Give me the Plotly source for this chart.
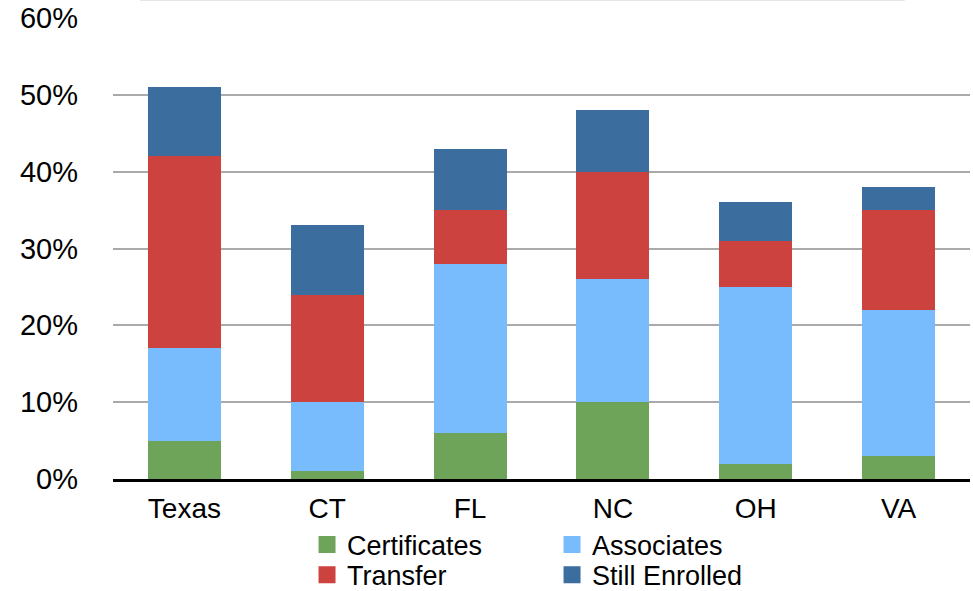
import plotly.graph_objects as go

states = ["Texas", "CT", "FL", "NC", "OH", "VA"]
certificates = [5, 1, 6, 10, 2, 3]
associates = [12, 9, 22, 16, 23, 19]
transfer = [25, 14, 7, 14, 6, 13]
still_enrolled = [9, 9, 8, 8, 5, 3]

series_names = ["Certificates", "Associates", "Transfer", "Still Enrolled"]
series_values = [certificates, associates, transfer, still_enrolled]
series_colors = ["#6ea45a", "#79bcfd", "#cb423f", "#3b6d9e"]
legend_ids = ["legend", "legend2", "legend3", "legend4"]

y_ticks = [0, 10, 20, 30, 40, 50, 60]
y_tick_labels = [f"{v}%" for v in y_ticks]

fig = go.Figure()
for name, vals, color in zip(series_names, series_values, series_colors):
    fig.add_trace(go.Bar(x=states, y=vals, name=name, marker=dict(color=color, line=dict(width=0)),
                         showlegend=False, width=0.51))
# legend-only entries with larger keys
for name, color, leg in zip(series_names, series_colors, legend_ids):
    fig.add_trace(go.Bar(x=[states[0]], y=[None], name=name, legend=leg,
                         marker=dict(color=color, line=dict(color=color, width=5))))

font = "Liberation Sans, Arial, Helvetica, sans-serif"
leg_common = dict(xanchor="left", yanchor="middle", orientation="v", font=dict(size=27),
                  itemwidth=30, bgcolor="rgba(0,0,0,0)")
col_x = [0.2264, 0.5123]
row_y = [-0.1432, -0.2085]
fig.update_layout(
    width=973, height=591,
    barmode="stack",
    plot_bgcolor="white", paper_bgcolor="white",
    margin=dict(l=113, r=3, t=18, b=112, autoexpand=False),
    font=dict(family=font, color="black", size=27),
    xaxis=dict(type="category", categoryorder="array", categoryarray=states,
               showline=True, linecolor="black", linewidth=3, ticks="", tickfont=dict(size=28),
               showgrid=False, automargin=False, tickangle=0, ticklabelstandoff=2),
    yaxis=dict(range=[0, 60], tickvals=y_ticks, ticktext=y_tick_labels, showgrid=True,
               gridcolor="#aaaaaa", gridwidth=2, zeroline=False, tickfont=dict(size=29),
               ticklen=0, ticks="", automargin=False, ticklabelstandoff=34),
    legend=dict(x=col_x[0], y=row_y[0], **leg_common),
    legend2=dict(x=col_x[1], y=row_y[0], **leg_common),
    legend3=dict(x=col_x[0], y=row_y[1], **leg_common),
    legend4=dict(x=col_x[1], y=row_y[1], **leg_common),
    shapes=[dict(type="line", xref="paper", yref="paper", x0=0.0315, x1=0.924, y0=1.038, y1=1.038,
                 line=dict(color="#e6e6e6", width=1))],
)
fig.write_html("out.html", config={"displayModeBar": False},
               post_script="document.body.style.margin='0px';document.body.style.overflow='hidden';")
